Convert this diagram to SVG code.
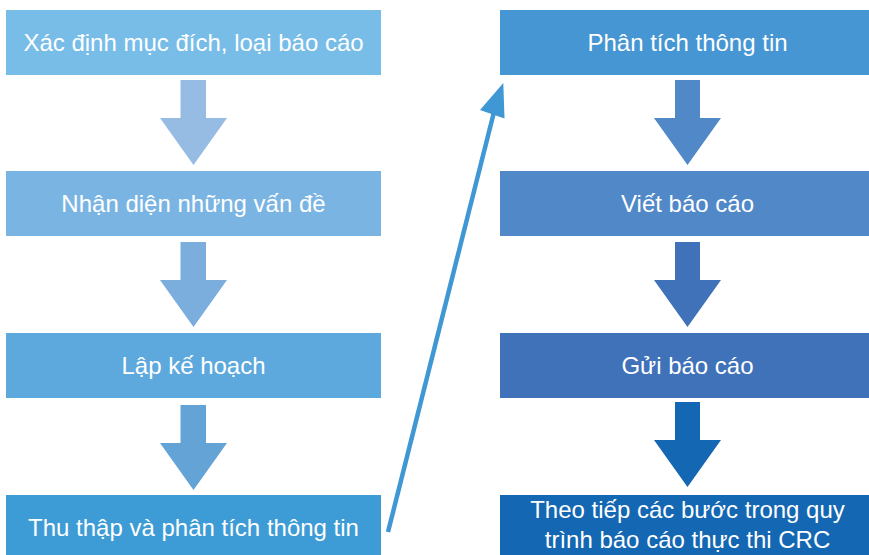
<svg xmlns="http://www.w3.org/2000/svg" width="869" height="555" viewBox="0 0 869 555">
<style>
text{font-family:"Liberation Sans",Arial,sans-serif;font-size:24px;fill:#ffffff;text-anchor:middle}
</style>
<rect width="869" height="555" fill="#ffffff"/>
<g id="connectors">
<polygon points="180.5,80 206,80 206,118 227,118 193.5,165 160,118 180.5,118" fill="#96BCE4"/>
<polygon points="180.5,242 206,242 206,280 227,280 193.5,327 160,280 180.5,280" fill="#7BADDD"/>
<polygon points="180.5,405 206,405 206,443 227,443 193.5,490 160,443 180.5,443" fill="#64A3D6"/>
<polygon points="675,80 700,80 700,118 721,118 687.5,165 654,118 675,118" fill="#5088C8"/>
<polygon points="675,242 700,242 700,280 721,280 687.5,327 654,280 675,280" fill="#3F72B8"/>
<polygon points="675,402 700,402 700,440 721,440 687.5,487 654,440 675,440" fill="#1467B2"/>
<line x1="388" y1="532" x2="494" y2="112" stroke="#3F97D3" stroke-width="4.5"/>
<polygon points="503.3,83 480,110 504.5,118.5" fill="#3F97D3"/>
</g>
<g id="n1"><rect x="6" y="10" width="375" height="65" fill="#77BDE8"/><text x="193.5" y="51">Xác định mục đích, loại báo cáo</text></g>
<g id="n2"><rect x="6" y="171" width="375" height="65" fill="#7AB4E2"/><text x="193.5" y="212">Nhận diện những vấn đề</text></g>
<g id="n3"><rect x="6" y="333" width="375" height="65" fill="#5DA8DC"/><text x="193.5" y="374">Lập kế hoạch</text></g>
<g id="n4"><rect x="6" y="495" width="375" height="65" fill="#3D9BD5"/><text x="193.5" y="536">Thu thập và phân tích thông tin</text></g>
<g id="n5"><rect x="500" y="10" width="375" height="65" fill="#4596D3"/><text x="687.5" y="51">Phân tích thông tin</text></g>
<g id="n6"><rect x="500" y="171" width="375" height="65" fill="#5088C8"/><text x="687.5" y="212">Viết báo cáo</text></g>
<g id="n7"><rect x="500" y="333" width="375" height="65" fill="#3F72B8"/><text x="687.5" y="374">Gửi báo cáo</text></g>
<g id="n8"><rect x="500" y="495" width="375" height="65" fill="#1467B2"/><text x="687.5" y="518">Theo tiếp các bước trong quy</text><text x="687.5" y="548">trình báo cáo thực thi CRC</text></g>
</svg>
